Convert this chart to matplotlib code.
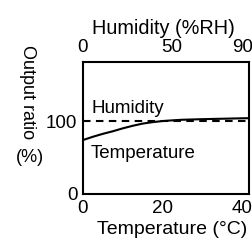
import matplotlib
matplotlib.use("Agg")
import matplotlib.pyplot as plt

plt.rcParams["font.family"] = ["Liberation Sans", "DejaVu Sans"]

# values
temp_c = [0, 2.5, 5, 7.5, 10, 12.5, 15, 17.5, 20, 22.5, 25, 30, 35, 40, 42]
temp_ratio = [74, 78.5, 82.5, 86, 90, 93.5, 96.5, 98.5, 100, 101, 101.8, 102.6, 103.2, 103.8, 104]
hum_rh = [0, 90, 94]
hum_ratio = [100, 100, 100]
x_ticks = [0, 20, 40]
top_ticks = [0, 50, 90]
y_ticks = [0, 100]

W, H = 252, 242
FS = 13.5
LW = 1.5
fig = plt.figure(figsize=(W / 100, H / 100), dpi=100)
ax = fig.add_axes([83 / W, (H - 194) / H, (249 - 83) / W, (194 - 62) / H])
ax.plot(temp_c, temp_ratio, color="black", lw=LW)
ax.set_xlim(0, 41.8)
ax.set_ylim(0, 181)
ax.set_xticks(x_ticks)
ax.set_yticks(y_ticks)
ax.tick_params(length=0, labelsize=FS, pad=4)
ax.set_xlabel("Temperature (°C)", fontsize=14.0, labelpad=3)
ax.xaxis.label.set_x(0.535)
for s in ax.spines.values():
    s.set_linewidth(LW)

top = ax.twiny()
top.plot(hum_rh, hum_ratio, color="black", lw=LW, ls=(0, (3.6, 2.6)))
top.set_xlim(0, 93.4)
top.set_xticks(top_ticks)
top.tick_params(length=0, labelsize=FS, pad=4)
top.set_xlabel("Humidity (%RH)", fontsize=14.3, labelpad=4)
top.xaxis.label.set_x(0.485)
for s in top.spines.values():
    s.set_visible(False)

ax.text(2.2, 105, "Humidity", fontsize=FS, va="bottom")
ax.text(2.0, 56, "Temperature", fontsize=FS, va="center")

fig.text(27 / W, 1 - 92 / H, "Output ratio", rotation=270, fontsize=13,
         ha="center", va="center")
fig.text(30 / W, 1 - 157 / H, "(%)", fontsize=13, ha="center", va="center")

fig.savefig("out.png", dpi=100)
